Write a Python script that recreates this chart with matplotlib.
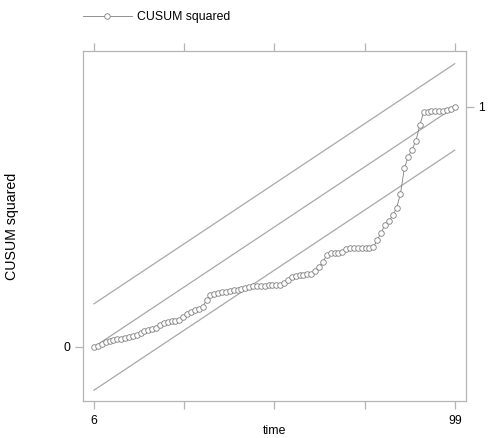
import matplotlib
matplotlib.use("Agg")
import matplotlib.pyplot as plt
from matplotlib import font_manager

# ---- data ----
time = list(range(6, 100))
cusum_sq = [
    0.000, 0.005, 0.012, 0.022, 0.025, 0.028, 0.032, 0.035, 0.038, 0.042,
    0.047, 0.052, 0.058, 0.065, 0.070, 0.074, 0.080, 0.090, 0.098, 0.106,
    0.108, 0.110, 0.113, 0.125, 0.138, 0.145, 0.152, 0.157, 0.168, 0.195,
    0.215, 0.222, 0.226, 0.228, 0.230, 0.232, 0.236, 0.238, 0.242, 0.245,
    0.249, 0.252, 0.255, 0.256, 0.256, 0.257, 0.257, 0.258, 0.260, 0.267,
    0.280, 0.290, 0.296, 0.298, 0.300, 0.302, 0.305, 0.318, 0.335, 0.352,
    0.385, 0.390, 0.392, 0.393, 0.395, 0.410, 0.412, 0.412, 0.413, 0.413,
    0.414, 0.414, 0.415, 0.446, 0.474, 0.510, 0.523, 0.550, 0.578, 0.638,
    0.744, 0.793, 0.822, 0.860, 0.925, 0.978, 0.980, 0.982, 0.983, 0.984,
    0.985, 0.987, 0.990, 1.000,
]
bound_time = [6, 99]
mean_line = [0.0, 1.0]
upper_bound = [0.18, 1.18]
lower_bound = [-0.18, 0.82]
x_ticks = [6, 29.25, 52.5, 75.75, 99]
x_tick_labels = ["6", "", "", "", "99"]
series_label = "CUSUM squared"
x_label = "time"
y_label = "CUSUM squared"

# ---- fonts ----
names = {f.name for f in font_manager.fontManager.ttflist}
if "Liberation Sans Narrow" in names:
    narrow = ["Liberation Sans Narrow", "DejaVu Sans"]
    nsize = 10.4
else:
    narrow = ["Liberation Sans", "DejaVu Sans"]
    nsize = 8.8
regular = ["Liberation Sans", "DejaVu Sans"]

GRAY_SPINE = "#b4b4b4"
GRAY_LINE = "#a8a8a8"
GRAY_PT = "#7e7e7e"

fig = plt.figure(figsize=(4.92, 4.38), dpi=100)
ax = fig.add_axes([83 / 492, 37 / 438, 383 / 492, 350 / 438])

for yb in (upper_bound, mean_line, lower_bound):
    ax.plot(bound_time, yb, color=GRAY_LINE, lw=0.9)

line, = ax.plot(time, cusum_sq, color=GRAY_PT, lw=0.6, marker="o",
                markersize=4.0, markerfacecolor="white",
                markeredgecolor=GRAY_PT, markeredgewidth=0.6,
                label=series_label)

ax.set_xlim(3.16, 101.9)
ax.set_ylim(-0.225, 1.233)

for s in ax.spines.values():
    s.set_color(GRAY_SPINE)
    s.set_linewidth(0.9)

ax.set_xticks(x_ticks)
ax.set_xticklabels(x_tick_labels, fontfamily=narrow, fontsize=nsize)
ax.set_yticks([0])
ax.set_yticklabels(["0"], fontfamily=narrow, fontsize=nsize)
ax.tick_params(axis="x", direction="out", length=6, width=0.9,
               color=GRAY_SPINE, top=True, labeltop=False, pad=4)
ax.tick_params(axis="y", direction="out", length=6, width=0.9,
               color=GRAY_SPINE, pad=3)

ax2 = ax.twinx()
ax2.set_ylim(ax.get_ylim())
ax2.set_yticks([1])
ax2.set_yticklabels(["1"], fontfamily=narrow, fontsize=nsize)
ax2.tick_params(axis="y", direction="out", length=6, width=0.9,
                color=GRAY_SPINE, pad=3)
for s in ax2.spines.values():
    s.set_visible(False)

ax.set_xlabel(x_label, fontfamily=narrow, fontsize=nsize, labelpad=-1)
ax.set_ylabel(y_label, fontfamily=regular, fontsize=10.2, labelpad=32)

fig.legend(handles=[line], loc="center left",
           bbox_to_anchor=(72 / 492, 1 - 17 / 438), frameon=False,
           handlelength=4.0, handletextpad=0.4, numpoints=1,
           prop={"family": narrow, "size": nsize})

fig.savefig("out.png", dpi=100)
